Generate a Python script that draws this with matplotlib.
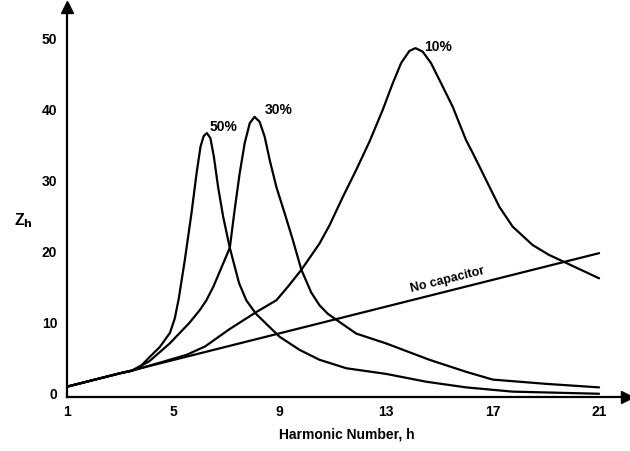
import matplotlib

matplotlib.use("Agg")
import matplotlib.pyplot as plt

# ---- data -------------------------------------------------------------------
h_nocap = [1, 21]
z_nocap = [0.9, 19.75]

h_50 = [1, 2, 3, 3.44, 3.8, 4.11, 4.49, 4.87, 5.05, 5.2, 5.43, 5.68, 5.87,
        6.02, 6.14, 6.26, 6.39, 6.52, 6.68, 6.87, 7.12, 7.47, 7.74, 8.1, 8.99,
        9.74, 10.49, 11.5, 13.0, 14.5, 16.0, 17.75, 21]
z_50 = [0.9, 1.85, 2.8, 3.15, 3.9, 5.1, 6.5, 8.5, 10.5, 13.3, 18.8, 25.4, 31.0,
        34.8, 36.3, 36.7, 36.0, 33.4, 29.1, 24.9, 20.5, 15.5, 13.1, 11.2, 7.95,
        6.1, 4.7, 3.5, 2.7, 1.6, 0.8, 0.2, -0.1]

h_30 = [1, 2, 3, 3.44, 4.1, 4.86, 5.6, 5.99, 6.24, 6.5, 7.12, 7.3, 7.49, 7.68,
        7.87, 8.05, 8.24, 8.43, 8.62, 8.87, 9.18, 9.49, 9.81, 10.18, 10.49,
        10.8, 11.18, 11.87, 13.0, 14.62, 16.0, 17.0, 19.0, 21]
z_30 = [0.9, 1.85, 2.8, 3.15, 4.5, 7.0, 9.9, 11.7, 13.1, 15.0, 20.5, 25.8, 31.0,
        35.3, 38.1, 39.0, 38.3, 36.2, 32.9, 29.1, 25.4, 21.6, 17.4, 14.2, 12.4,
        11.2, 10.2, 8.4, 7.0, 4.7, 3.0, 1.9, 1.3, 0.8]

h_10 = [1, 2, 3, 3.44, 4.5, 5.5, 6.2, 7.1, 8.1, 8.87, 9.3, 9.81, 10.49, 10.87,
        11.37, 11.87, 12.37, 12.87, 13.24, 13.56, 13.87, 14.1, 14.37, 14.68,
        15.0, 15.5, 16.0, 16.25, 16.75, 17.25, 17.75, 18.5, 19.12, 19.69, 21]
z_10 = [0.9, 1.85, 2.8, 3.15, 4.3, 5.4, 6.6, 9.0, 11.4, 13.1, 15.0, 17.4, 21.1,
        23.7, 27.7, 31.5, 35.5, 40.0, 43.7, 46.6, 48.3, 48.7, 48.2, 46.6,
        44.2, 40.4, 35.7, 33.9, 30.1, 26.3, 23.5, 20.9, 19.5, 18.5, 16.2]

x_ticks = [1, 5, 9, 13, 17, 21]
y_ticks = [0, 10, 20, 30, 40, 50]

curve_labels = ["50%", "30%", "10%"]
label_pos = [(6.37, 37.6), (8.43, 39.9), (14.43, 48.9)]

INK = "black"
plt.rcParams["font.family"] = ["Liberation Sans", "DejaVu Sans"]
plt.rcParams["font.weight"] = "bold"

fig = plt.figure(figsize=(6.3, 4.51), dpi=100)
ax = fig.add_axes([0.1063, 0.1197, 0.889, 0.8647])

lw = 1.6
for hx, zy in [(h_nocap, z_nocap), (h_50, z_50), (h_30, z_30), (h_10, z_10)]:
    ax.plot(hx, zy, color=INK, linewidth=lw, solid_joinstyle="round",
            solid_capstyle="round")

for txt, (x, y) in zip(curve_labels, label_pos):
    ax.text(x, y, txt, fontsize=10, fontweight="bold", ha="left", va="center")

ax.text(15.3, 16.0, "No capacitor", fontsize=9, fontweight="bold",
        rotation=14, ha="center", va="center", rotation_mode="anchor")

ax.set_xlim(1, 22.05)
ax.set_ylim(-0.56, 54.5)
for side in ("top", "right"):
    ax.spines[side].set_visible(False)
for side in ("left", "bottom"):
    ax.spines[side].set_linewidth(1.6)
    ax.spines[side].set_color(INK)

# arrow heads on the axes
ax.plot(1, 54.5, marker="^", markersize=8, color=INK, clip_on=False)
ax.plot(22.05, -0.56, marker=">", markersize=8, color=INK, clip_on=False)

ax.set_xticks(x_ticks)
ax.set_yticks(y_ticks)
ax.tick_params(axis="x", length=0, pad=6, labelsize=10)
ax.tick_params(axis="y", length=0, pad=7, labelsize=10)
for lab in ax.get_xticklabels() + ax.get_yticklabels():
    lab.set_fontweight("bold")

ax.set_xlabel("Harmonic Number, h", fontsize=10, fontweight="bold", labelpad=6)
fig.text(0.022, 0.51, r"Z$_\mathbf{h}$", fontsize=11.5, fontweight="bold",
         ha="left", va="center")

fig.savefig("out.png", dpi=100, facecolor="white")
